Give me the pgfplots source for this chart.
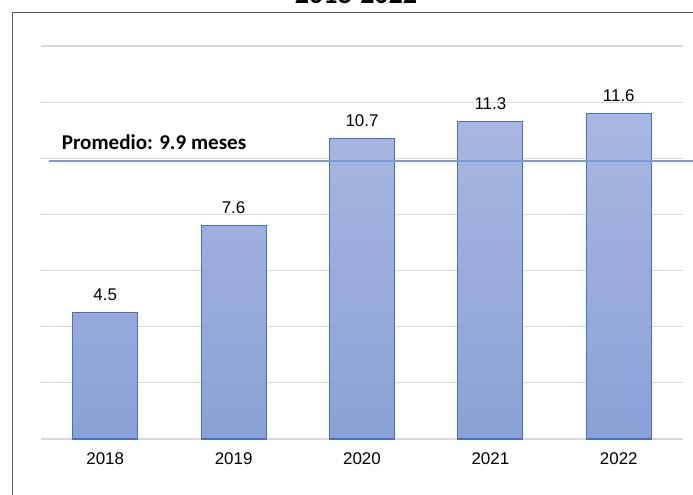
\documentclass[border=0pt]{standalone}
\usepackage{pgfplots}
\pgfplotsset{compat=1.18}
\usepackage{fontspec}
\setmainfont{Liberation Sans}
\newfontfamily\calibri{Carlito}
\definecolor{barTop}{HTML}{A8B7E1}
\definecolor{barBot}{HTML}{8AA1D8}
\definecolor{barEdge}{HTML}{4472C4}
\definecolor{avgLine}{HTML}{7D9BD7}
\definecolor{gridGray}{HTML}{D9D9D9}
\definecolor{frameGray}{HTML}{595959}
\begin{document}
\begin{tikzpicture}
\clip (0,0) rectangle (519.75pt,371.25pt);
\draw[frameGray, line width=0.8pt] (9.2pt,-20pt) rectangle (560pt,362pt);
\node[font=\calibri\bfseries\fontsize{21}{24}\selectfont, anchor=base] at (267pt,368.9pt) {2018-2022};
\begin{axis}[
  at={(30.75pt,42pt)}, anchor=south west,
  scale only axis, width=481.5pt, height=294.75pt,
  xmin=-0.5, xmax=4.5, ymin=0, ymax=14,
  axis line style={draw=none},
  xtick={0,1,2,3,4},
  xticklabels={2018,2019,2020,2021,2022},
  major tick length=0pt,
  xticklabel style={font=\fontsize{12.7}{14}\selectfont, anchor=base, yshift=-19.5pt},
  ytick={0,2,4,6,8,10,12,14},
  yticklabels={},
  ymajorgrids, grid style={gridGray, line width=0.8pt},
  clip=false,
  /pgf/number format/assume math mode=true,
  /pgf/number format/fixed,
  /pgf/number format/precision=1,
  /pgf/number format/fixed zerofill,
]
\addplot[ybar, bar width=0.506, draw=barEdge, line width=0.8pt, top color=barTop, bottom color=barBot,
  nodes near coords,
  every node near coord/.append style={font=\fontsize{12.7}{14}\selectfont, anchor=base, inner sep=0pt, yshift=9pt, text=black}]
  coordinates {(0,4.5) (1,7.6) (2,10.7) (3,11.3) (4,11.6)};
\addplot[avgLine, line width=1.5pt, forget plot] coordinates {(-0.44,9.9) (4.7,9.9)};
\node[anchor=base west, font=\calibri\bfseries\fontsize{15.8}{18}\selectfont, inner sep=0pt] at (axis cs:-0.34,10.3) {Promedio: 9.9 meses};
\end{axis}
\end{tikzpicture}
\end{document}
